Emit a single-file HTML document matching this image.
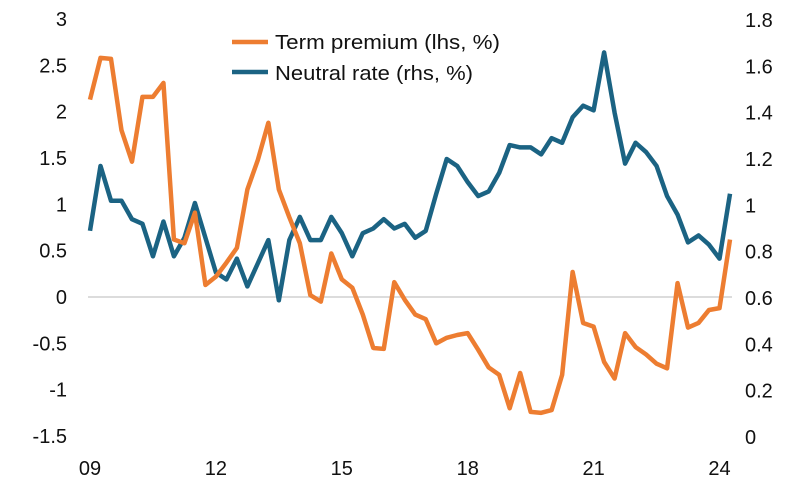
<!DOCTYPE html>
<html><head><meta charset="utf-8"><style>
body{margin:0;background:#fff;}
svg{display:block;font-family:"Liberation Sans",sans-serif;}
</style></head><body>
<svg id="chart" width="812" height="488" viewBox="0 0 812 488">
<g id="axes"></g>
<g id="lines"></g>
<g>
<line x1="232" y1="42" x2="268" y2="42" stroke="#ED7D31" stroke-width="4.5"/>
<text x="275" y="49" font-size="20" fill="#111" textLength="225" lengthAdjust="spacingAndGlyphs">Term premium (lhs, %)</text>
<line x1="232" y1="72" x2="268" y2="72" stroke="#1B6383" stroke-width="4.5"/>
<text x="275" y="80" font-size="20" fill="#111" textLength="198" lengthAdjust="spacingAndGlyphs">Neutral rate (rhs, %)</text>
</g>
</svg>
<script>
const termPremium=[2.13,2.58,2.57,1.80,1.46,2.16,2.16,2.31,0.62,0.58,0.91,0.13,0.22,0.37,0.53,1.16,1.48,1.88,1.16,0.86,0.58,0.02,-0.05,0.47,0.19,0.10,-0.19,-0.55,-0.56,0.16,-0.03,-0.19,-0.24,-0.50,-0.44,-0.41,-0.39,-0.57,-0.76,-0.84,-1.20,-0.82,-1.24,-1.25,-1.22,-0.84,0.27,-0.28,-0.32,-0.70,-0.88,-0.39,-0.54,-0.62,-0.72,-0.77,0.15,-0.33,-0.28,-0.14,-0.12,0.62];
const neutralRate=[0.89,1.17,1.02,1.02,0.94,0.92,0.78,0.93,0.78,0.86,1.01,0.86,0.71,0.68,0.77,0.65,0.75,0.85,0.59,0.85,0.95,0.85,0.85,0.95,0.88,0.78,0.88,0.90,0.94,0.90,0.92,0.86,0.89,1.05,1.20,1.17,1.10,1.04,1.06,1.14,1.26,1.25,1.25,1.22,1.29,1.27,1.38,1.43,1.41,1.66,1.40,1.18,1.27,1.23,1.17,1.04,0.96,0.84,0.87,0.83,0.77,1.05];
const leftTicks=[3,2.5,2,1.5,1,0.5,0,-0.5,-1,-1.5];
const rightTicks=[1.8,1.6,1.4,1.2,1,0.8,0.6,0.4,0.2,0];
const xTickLabels=["09","12","15","18","21","24"];
const xTickIndex=[0,12,24,36,48,60];

const NS="http://www.w3.org/2000/svg";
const x=i=>90+i*(640/61);
const yL=v=>297-v*92.67;
const yR=v=>437-v*231.67;
const axes=document.getElementById('axes'), lines=document.getElementById('lines');
function mk(tag,attrs,parent){const e=document.createElementNS(NS,tag);for(const k in attrs)e.setAttribute(k,attrs[k]);parent.appendChild(e);return e;}

const zl=mk('line',{x1:88,x2:732,y1:yL(0),y2:yL(0),stroke:'#d0d0d0','stroke-width':1.5},axes);



leftTicks.forEach(v=>{
 const t=mk('text',{x:67,y:yL(v)+7,'font-size':20,'text-anchor':'end',fill:'#111'},axes);
 t.textContent=String(v);
 
 
});
rightTicks.forEach(v=>{
 const t=mk('text',{x:745,y:yR(v)+7,'font-size':20,'text-anchor':'start',fill:'#111'},axes);
 t.textContent=String(v);
 
 
});
xTickLabels.forEach((s,k)=>{
 const t=mk('text',{x:x(xTickIndex[k]),y:475,'font-size':20,'text-anchor':'middle',fill:'#111'},axes);
 t.textContent=s;
 
 
});

const pN=mk('polyline',{points:neutralRate.map((v,i)=>x(i)+','+yR(v)).join(' '),fill:'none',stroke:'#1B6383','stroke-width':4.5,'stroke-linejoin':'round'},lines);


const pT=mk('polyline',{points:termPremium.map((v,i)=>x(i)+','+yL(v)).join(' '),fill:'none',stroke:'#ED7D31','stroke-width':4.5,'stroke-linejoin':'round'},lines);


</script>
</body></html>
